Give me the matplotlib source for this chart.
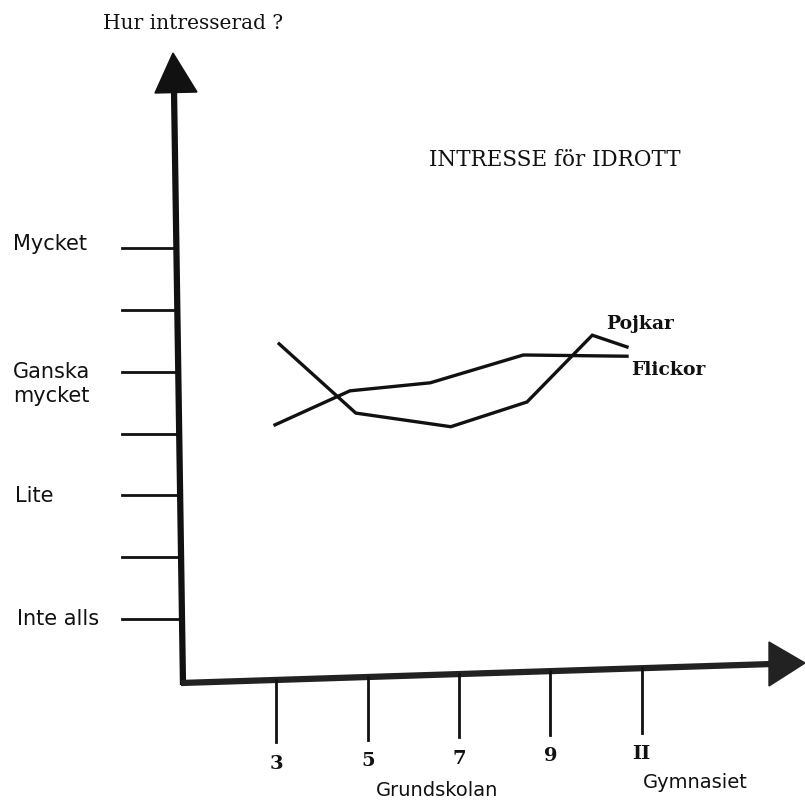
import matplotlib
matplotlib.use("Agg")
import matplotlib.pyplot as plt
from matplotlib.patches import Polygon

# ---- data ----
levels = [0, 1, 2, 3, 4, 5, 6]
level_labels = {0: "Inte alls", 2: "Lite", 4: "Ganska\nmycket", 6: "Mycket"}
grades = [3, 5, 7, 9, 11]
grade_labels = ["3", "5", "7", "9", "II"]

flickor_x = [2.97, 4.61, 6.37, 8.41, 10.68]
flickor_y = [3.14, 3.69, 3.82, 4.27, 4.25]
pojkar_x = [3.06, 4.74, 6.82, 8.49, 9.92, 10.68]
pojkar_y = [4.45, 3.33, 3.11, 3.51, 4.59, 4.40]

# ---- pixel helpers (layout only) ----
W, H = 805, 802
X0, XS = 276.4, 45.65    # pixel of grade 3, pixels per grade unit
Y0, YS = 619, 61.83      # pixel of level 0, pixels per level


def px(p):
    return 3 + (p - X0) / XS


def py(p):
    return (Y0 - p) / YS


fig = plt.figure(figsize=(W / 100, H / 100), dpi=100)
ax = fig.add_axes([0, 0, 1, 1])
ax.set_xlim(px(0), px(W))
ax.set_ylim(py(H), py(0))
ax.axis("off")

ink = "#111111"
axis_lw = 4.5

# y axis (slightly slanted as in the scan)
ax.plot([px(174), px(183)], [py(90), py(685)], color=ink, lw=axis_lw, solid_capstyle="butt")
ax.add_patch(Polygon([(px(173), py(53)), (px(155), py(93)), (px(197), py(92))],
                     closed=True, color=ink))
# x axis
ax.plot([px(181), px(772)], [py(683), py(664)], color="#222222", lw=axis_lw, solid_capstyle="butt")
ax.add_patch(Polygon([(px(805), py(663)), (px(769), py(642)), (px(769), py(686))],
                     closed=True, color="#222222"))


# y ticks
def axis_x_at(ypix):
    return 174 + (ypix - 90) * 9 / 595


for lv in levels:
    yp = Y0 - lv * YS
    ax.plot([px(122), px(axis_x_at(yp))], [lv, lv], color=ink, lw=2.0)

sans = "DejaVu Sans"
label_pos = {6: (13, 250), 4: (13, 378), 2: (15, 502), 0: (17, 625)}
for lv, lab in level_labels.items():
    xl, yl = label_pos[lv]
    if "\n" in lab:
        first, second = lab.split("\n")
        ax.text(px(xl), py(yl), first, ha="left", va="baseline", fontsize=15,
                family=sans, color=ink)
        ax.text(px(xl), py(yl + 24), second, ha="left", va="baseline", fontsize=15,
                family=sans, color=ink)
    else:
        ax.text(px(xl), py(yl), lab, ha="left", va="baseline", fontsize=15,
                family=sans, color=ink)


# x ticks
def axis_y_at(xpix):
    return 683 + (xpix - 181) * (664 - 683) / (772 - 181)


tick_bottom = [742, 740, 737, 735, 733]
label_y = [764, 761, 759, 756, 754]
for g, lab, tb, ly in zip(grades, grade_labels, tick_bottom, label_y):
    xp = X0 + (g - 3) * XS
    ax.plot([g, g], [py(axis_y_at(xp)), py(tb)], color=ink, lw=2.0)
    ax.text(g, py(ly), lab, ha="center", va="center", fontsize=14,
            family="DejaVu Serif", fontweight="bold", color=ink)

ax.text(px(437), py(790), "Grundskolan", ha="center", va="center", fontsize=14,
        family=sans, color=ink)
ax.text(px(695), py(783), "Gymnasiet", ha="center", va="center", fontsize=14,
        family=sans, color=ink)

# data lines
ax.plot(flickor_x, flickor_y, color=ink, lw=2.4, solid_joinstyle="miter")
ax.plot(pojkar_x, pojkar_y, color=ink, lw=2.4, solid_joinstyle="miter")
ax.text(px(606), py(324), "Pojkar", ha="left", va="center", fontsize=13.5,
        family="DejaVu Serif", fontweight="bold", color=ink)
ax.text(px(631), py(370), "Flickor", ha="left", va="center", fontsize=13.5,
        family="DejaVu Serif", fontweight="bold", color=ink)

# titles
ax.text(px(555), py(160), "INTRESSE för IDROTT", ha="center", va="center", fontsize=15.5,
        family="DejaVu Serif", color=ink)
ax.text(px(193), py(23), "Hur intresserad ?", ha="center", va="center", fontsize=14.5,
        family="DejaVu Serif", color=ink)

fig.savefig("out.png", dpi=100, facecolor="white")
